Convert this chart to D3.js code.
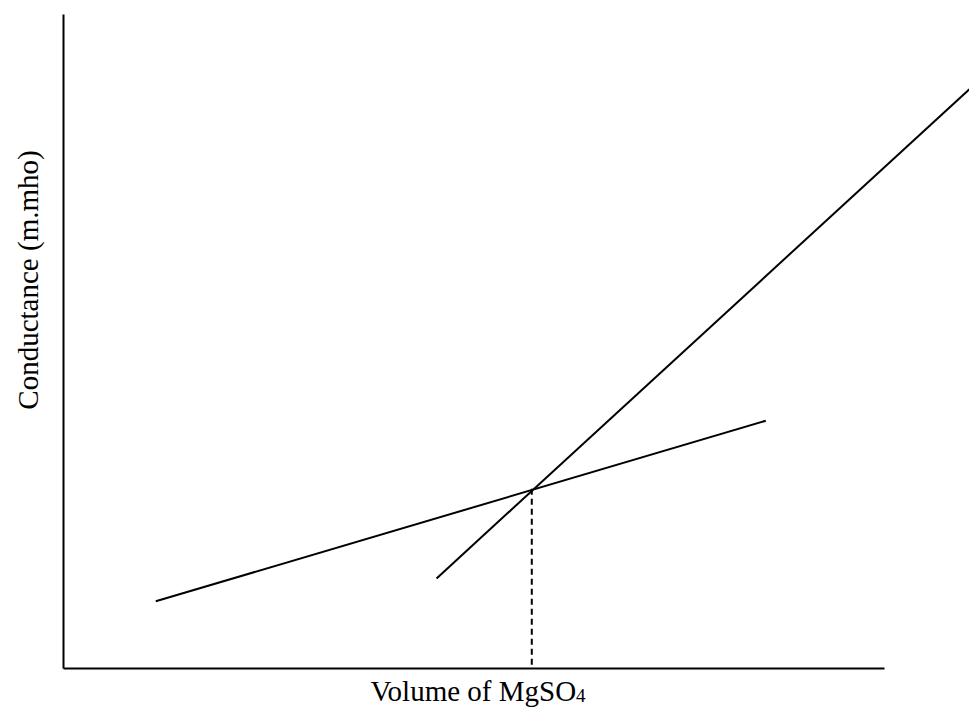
<!DOCTYPE html>
<html>
<head>
<meta charset="utf-8">
<script src="https://cdn.jsdelivr.net/npm/d3@7"></script>
<style>
  body { margin: 0; background: #fff; }
  svg { display: block; }
  text { font-family: "Liberation Serif", "Times New Roman", serif; fill: #000; }
</style>
</head>
<body>
<svg id="chart"></svg>
<script>
// Conductometric titration sketch: two straight branches meeting at the end point

const width = 969;
const height = 709;

// data in arbitrary units (axes carry no ticks)
const xDomain = [0, 100];
const yDomain = [0, 100];
const branchBefore = [[11.3, 10.2], [85.6, 37.8]];
const branchAfter = [[45.5, 13.7], [110.4, 88.5]];
const endPoint = [57.1, 27.4];

const xLabel = 'Volume of MgSO';
const xLabelSub = '4';
const yLabel = 'Conductance (m.mho)';

const svg = d3.select('#chart')
    .attr('width', width)
    .attr('height', height);

const x = d3.scaleLinear().domain(xDomain).range([63, 884]);
const y = d3.scaleLinear().domain(yDomain).range([668, 14]);

// axes without ticks
svg.append('g')
    .attr('transform', `translate(0,${y(0)})`)
    .call(d3.axisBottom(x).ticks(0).tickSizeOuter(0))
    .select('.domain')
    .attr('stroke', '#000')
    .attr('stroke-width', 2);

svg.append('g')
    .attr('transform', `translate(${x(0)},0)`)
    .call(d3.axisLeft(y).ticks(0).tickSizeOuter(0))
    .select('.domain')
    .attr('stroke', '#000')
    .attr('stroke-width', 2);

const line = d3.line()
    .x(d => x(d[0]))
    .y(d => y(d[1]));

svg.append('path')
    .datum(branchBefore)
    .attr('d', line)
    .attr('fill', 'none')
    .attr('stroke', '#000')
    .attr('stroke-width', 2);

svg.append('path')
    .datum(branchAfter)
    .attr('d', line)
    .attr('fill', 'none')
    .attr('stroke', '#000')
    .attr('stroke-width', 2);

// dashed drop from the end point to the x axis
svg.append('path')
    .datum([endPoint, [endPoint[0], 0]])
    .attr('d', line)
    .attr('fill', 'none')
    .attr('stroke', '#000')
    .attr('stroke-width', 2)
    .attr('stroke-dasharray', '6,4');

// labels
const xl = svg.append('text')
    .attr('x', 478)
    .attr('y', 701)
    .attr('text-anchor', 'middle')
    .style('font-size', '29px')
    .text(xLabel);
xl.append('tspan')
    .attr('dy', 1)
    .style('font-size', '19px')
    .text(xLabelSub);

svg.append('text')
    .attr('transform', 'translate(38,280) rotate(-90)')
    .attr('text-anchor', 'middle')
    .style('font-size', '29px')
    .text(yLabel);
</script>
</body>
</html>
